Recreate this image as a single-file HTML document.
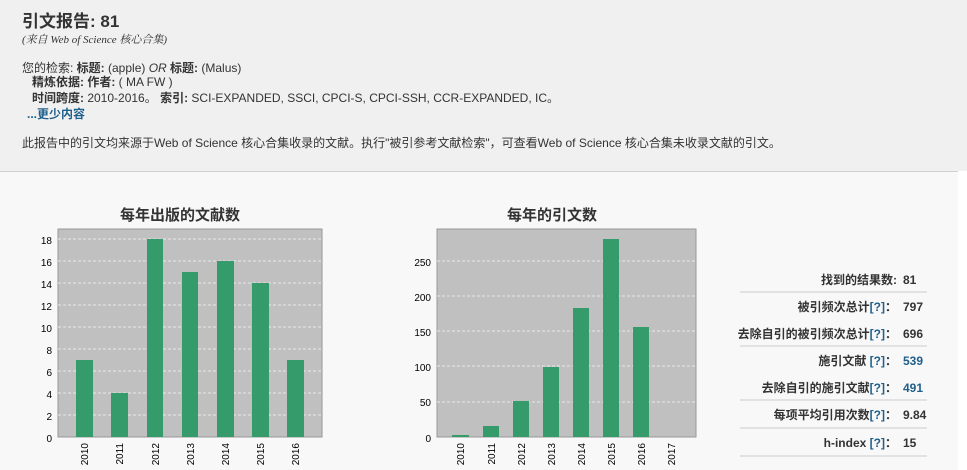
<!DOCTYPE html>
<html><head><meta charset="utf-8"><style>
body{margin:0;width:967px;height:470px;overflow:hidden;background:#f8f8f8;font-family:"Liberation Sans","Noto Sans CJK SC",sans-serif;color:#333;position:relative}
.top{position:absolute;left:0;top:0;width:967px;height:171px;background:#f0f0f0;border-bottom:1px solid #d0d0d0}
.t{position:absolute;white-space:nowrap}
</style></head><body>
<div class="top"></div>
<div class="t" style="left:22px;top:7px;font-size:17px;font-weight:bold;color:#333">引文报告: 81</div>
<div class="t" style="left:22px;top:31px;font-size:11px;font-style:italic;font-family:'Liberation Serif','Noto Serif CJK SC',serif">(来自 Web of Science 核心合集)</div>
<div class="t" style="left:22px;top:59px;font-size:12px">您的检索: <b>标题:</b> (apple) <i>OR</i> <b>标题:</b> (Malus)</div>
<div class="t" style="left:32px;top:73px;font-size:12px"><b>精炼依据: 作者:</b> ( MA FW )</div>
<div class="t" style="left:32px;top:89px;font-size:12px"><b>时间跨度:</b> 2010-2016。 <b>索引:</b> SCI-EXPANDED, SSCI, CPCI-S, CPCI-SSH, CCR-EXPANDED, IC。</div>
<div class="t" style="left:27px;top:105px;font-size:12px;font-weight:bold;color:#1f5f8b">...更少内容</div>
<div class="t" style="left:22px;top:134px;font-size:12px">此报告中的引文均来源于Web of Science 核心合集收录的文献。执行"被引参考文献检索"，可查看Web of Science 核心合集未收录文献的引文。</div>
<svg width="967" height="470" style="position:absolute;left:0;top:0" font-family="Liberation Sans, Noto Sans CJK SC, sans-serif">
<rect x="958" y="171" width="9" height="299" fill="#fff"/>
<text x="180" y="220" font-size="15" font-weight="bold" text-anchor="middle" fill="#333">每年出版的文献数</text>
<text x="552" y="220" font-size="15" font-weight="bold" text-anchor="middle" fill="#333">每年的引文数</text>
<rect x="58" y="229" width="264" height="208" fill="#c0c0c0" stroke="#999"/>
<rect x="437" y="229" width="259" height="208" fill="#c0c0c0" stroke="#999"/>
<g stroke="#e8e8e8" stroke-dasharray="3,2">
<line x1="58" x2="322" y1="239" y2="239"/><line x1="58" x2="322" y1="261" y2="261"/><line x1="58" x2="322" y1="283" y2="283"/><line x1="58" x2="322" y1="305" y2="305"/><line x1="58" x2="322" y1="327" y2="327"/><line x1="58" x2="322" y1="349" y2="349"/><line x1="58" x2="322" y1="371" y2="371"/><line x1="58" x2="322" y1="393" y2="393"/><line x1="58" x2="322" y1="415" y2="415"/>
<line x1="437" x2="696" y1="261" y2="261"/><line x1="437" x2="696" y1="296" y2="296"/><line x1="437" x2="696" y1="331" y2="331"/><line x1="437" x2="696" y1="366" y2="366"/><line x1="437" x2="696" y1="402" y2="402"/>
</g>
<g font-size="10" fill="#000" text-anchor="end">
<text x="52" y="442">0</text><text x="52" y="420">2</text><text x="52" y="398">4</text><text x="52" y="376">6</text><text x="52" y="354">8</text><text x="52" y="332">10</text><text x="52" y="310">12</text><text x="52" y="288">14</text><text x="52" y="266">16</text><text x="52" y="244">18</text>
<text x="431" y="442">0</text><text x="431" y="406">50</text><text x="431" y="371">100</text><text x="431" y="336">150</text><text x="431" y="301">200</text><text x="431" y="266">250</text>
</g>
<g fill="#359b6a">
<rect x="76" y="360" width="17" height="77"/><rect x="111" y="393" width="17" height="44"/><rect x="147" y="239" width="16" height="198"/><rect x="182" y="272" width="16" height="165"/><rect x="217" y="261" width="17" height="176"/><rect x="252" y="283" width="17" height="154"/><rect x="287" y="360" width="17" height="77"/>
<rect x="452" y="435" width="17" height="2"/><rect x="483" y="426" width="16" height="11"/><rect x="513" y="401" width="16" height="36"/><rect x="543" y="367" width="16" height="70"/><rect x="573" y="308" width="16" height="129"/><rect x="603" y="239" width="16" height="198"/><rect x="633" y="327" width="16" height="110"/>
</g>
<g font-size="10" fill="#000" text-anchor="end">
<text transform="translate(88,443) rotate(-90)">2010</text><text transform="translate(123,443) rotate(-90)">2011</text><text transform="translate(159,443) rotate(-90)">2012</text><text transform="translate(194,443) rotate(-90)">2013</text><text transform="translate(229,443) rotate(-90)">2014</text><text transform="translate(264,443) rotate(-90)">2015</text><text transform="translate(299,443) rotate(-90)">2016</text>
<text transform="translate(464,443) rotate(-90)">2010</text><text transform="translate(495,443) rotate(-90)">2011</text><text transform="translate(525,443) rotate(-90)">2012</text><text transform="translate(555,443) rotate(-90)">2013</text><text transform="translate(585,443) rotate(-90)">2014</text><text transform="translate(615,443) rotate(-90)">2015</text><text transform="translate(645,443) rotate(-90)">2016</text><text transform="translate(675,443) rotate(-90)">2017</text>
</g>
<g stroke="#ccc"><line x1="740" x2="927" y1="292" y2="292"/><line x1="740" x2="927" y1="346" y2="346"/><line x1="740" x2="927" y1="400" y2="400"/><line x1="740" x2="927" y1="428" y2="428"/><line x1="740" x2="927" y1="456" y2="456"/></g>
<g font-size="12" font-weight="bold" fill="#333">
<g text-anchor="end">
<text x="897" y="284">找到的结果数:</text>
<text x="897" y="311">被引频次总计<tspan fill="#1f5f8b">[?]</tspan>：</text>
<text x="897" y="338">去除自引的被引频次总计<tspan fill="#1f5f8b">[?]</tspan>：</text>
<text x="897" y="365">施引文献 <tspan fill="#1f5f8b">[?]</tspan>：</text>
<text x="897" y="392">去除自引的施引文献<tspan fill="#1f5f8b">[?]</tspan>：</text>
<text x="897" y="419">每项平均引用次数<tspan fill="#1f5f8b">[?]</tspan>：</text>
<text x="897" y="447">h-index <tspan fill="#1f5f8b">[?]</tspan>：</text>
</g>
<text x="903" y="284">81</text><text x="903" y="311">797</text><text x="903" y="338">696</text>
<text x="903" y="365" fill="#1f5f8b">539</text><text x="903" y="392" fill="#1f5f8b">491</text>
<text x="903" y="419">9.84</text><text x="903" y="447">15</text>
</g>
</svg>
</body></html>
